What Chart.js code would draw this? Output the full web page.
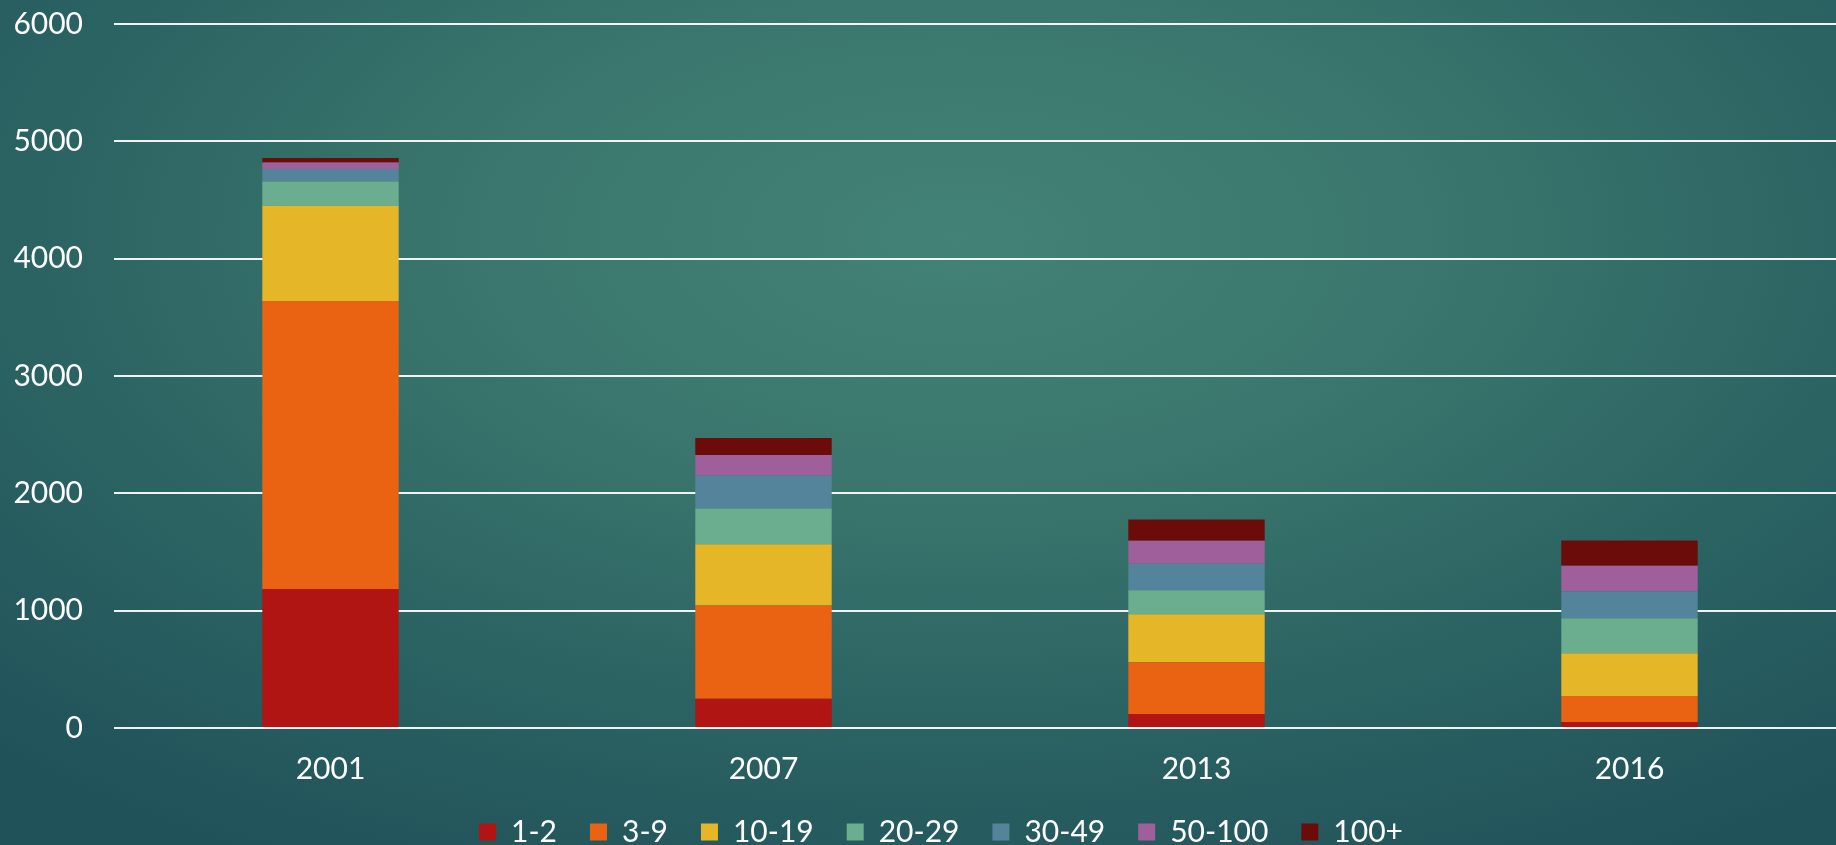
<!DOCTYPE html>
<html>
<head>
<meta charset="utf-8">
<script src="https://cdn.jsdelivr.net/npm/chart.js@4/dist/chart.umd.min.js"></script>
<style>
html,body{margin:0;padding:0;width:1836px;height:845px;overflow:hidden;}
body{background:radial-gradient(ellipse 75% 85% at 52% 28%, #438276 0%, #3a766d 35%, #2c6463 65%, #20525a 100%);}
#wrap{position:absolute;left:0;top:0;width:1846px;height:845px;}
</style>
</head>
<body>
<div id="wrap"><canvas id="c" width="1846" height="845"></canvas></div>
<script>
const categories = ["2001","2007","2013","2016"];
const seriesNames = ["1-2","3-9","10-19","20-29","30-49","50-100","100+"];
const s12    = [1185, 250, 119, 51];
const s39    = [2455, 794, 441, 222];
const s1019  = [812, 523, 409, 364];
const s2029  = [205, 304, 205, 298];
const s3049  = [108, 282, 225, 231];
const s50100 = [55, 173, 196, 216];
const s100p  = [39, 145, 182, 216];
const yTicks = [0,1000,2000,3000,4000,5000,6000];

const colors = ["#b01513","#ea6312","#e5b628","#6bae8f","#54849b","#9e5f9b","#6b0c0a"];
const allSeries = [s12,s39,s1019,s2029,s3049,s50100,s100p];

const FONT = "Lato, 'Open Sans', sans-serif";

const legendShift = {
  id: 'legendShift',
  afterLayout(chart) {
    if (chart.legend) { chart.legend.left += 18; chart.legend.right += 18; }
  }
};

new Chart(document.getElementById('c'), {
  type: 'bar',
  data: {
    labels: categories,
    datasets: allSeries.map((d,i)=>({
      label: seriesNames[i],
      data: d,
      backgroundColor: colors[i],
      borderWidth: 0,
      categoryPercentage: 1.0,
      barPercentage: 0.315
    }))
  },
  plugins: [legendShift],
  options: {
    responsive: false,
    animation: false,
    layout: { padding: { left: 0, right: 0, top: 24, bottom: -12 } },
    plugins: {
      tooltip: { enabled: false },
      legend: {
        position: 'bottom',
        align: 'center',
        labels: {
          color: '#ffffff',
          font: { family: FONT, size: 30 },
          boxWidth: 17,
          boxHeight: 17,
          padding: 33
        }
      }
    },
    scales: {
      x: {
        stacked: true,
        grid: { display: false, drawTicks: false },
        border: { display: false },
        ticks: { color: '#ffffff', font: { family: FONT, size: 30 }, padding: 23 },
        afterFit: (scale) => { scale.height = scale.height - 26; scale.paddingLeft = 0; scale.paddingRight = 0; }
      },
      y: {
        stacked: true,
        min: 0,
        max: 6000,
        afterBuildTicks: (scale) => { scale.ticks = yTicks.map(v => ({ value: v })); },
        afterFit: (scale) => { scale.width = 114; scale.paddingTop = 0; scale.paddingBottom = 0; },
        grid: { color: 'rgba(255,255,255,0.92)', lineWidth: 2, drawTicks: false },
        border: { display: false },
        ticks: { color: '#ffffff', font: { family: FONT, size: 30 }, padding: 31, callback: (v) => String(v) }
      }
    }
  }
});
</script>
</body>
</html>
